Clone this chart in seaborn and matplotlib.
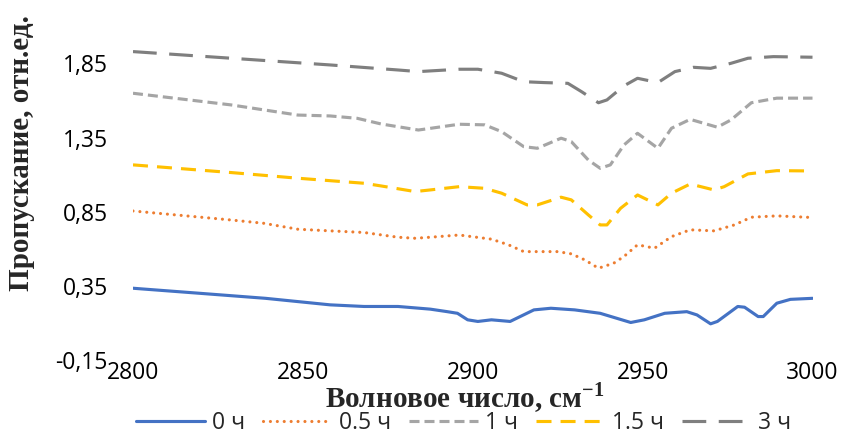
import matplotlib
matplotlib.use("Agg")
import matplotlib.pyplot as plt
import numpy as np
import pandas as pd
import seaborn as sns

# ---------------- data ----------------
series_labels = ["0 ч", "0.5 ч", "1 ч", "1.5 ч", "3 ч"]

x_0h = [2800, 2819, 2839, 2848.5, 2858, 2868, 2878, 2887.5, 2892.5, 2895.5, 2898.5, 2901.5,
        2905.5, 2911, 2918, 2923, 2930, 2937.5, 2946.5, 2950.5, 2956.5, 2963, 2966, 2970,
        2972, 2978, 2980, 2984, 2985.5, 2989.5, 2993.5, 3000]
y_0h = [0.334, 0.301, 0.266, 0.244, 0.222, 0.211, 0.211, 0.193, 0.176, 0.165, 0.121, 0.110,
        0.121, 0.110, 0.188, 0.199, 0.188, 0.165, 0.103, 0.121, 0.165, 0.176, 0.154, 0.094,
        0.110, 0.211, 0.206, 0.143, 0.143, 0.233, 0.259, 0.266]

x_05h = [2800, 2829, 2838.5, 2848.5, 2858, 2868, 2878, 2883, 2887.5, 2896, 2905.5, 2910.5,
         2915, 2925, 2929, 2933, 2937, 2941.5, 2944.5, 2948.5, 2953.5, 2958.5, 2964, 2971,
         2977, 2982, 2989.5, 3000]
y_05h = [0.855, 0.794, 0.772, 0.732, 0.721, 0.710, 0.678, 0.671, 0.678, 0.693, 0.665, 0.627,
         0.581, 0.581, 0.566, 0.525, 0.469, 0.503, 0.548, 0.627, 0.604, 0.682, 0.728, 0.721,
         0.761, 0.813, 0.822, 0.811]

x_1h = [2800, 2829, 2848.5, 2858, 2866, 2873, 2884, 2896, 2903.5, 2908.5, 2915, 2919, 2926,
        2929, 2934, 2937.5, 2940.5, 2944.5, 2948.5, 2954.5, 2958.5, 2964, 2972, 2976, 2982,
        2989.5, 3000]
y_1h = [1.649, 1.570, 1.502, 1.496, 1.480, 1.442, 1.401, 1.440, 1.436, 1.390, 1.289, 1.278,
        1.346, 1.323, 1.199, 1.143, 1.166, 1.300, 1.379, 1.278, 1.413, 1.473, 1.420, 1.469,
        1.585, 1.616, 1.616]

x_15h = [2800, 2829, 2848.5, 2868, 2873, 2883, 2887.5, 2896, 2903.5, 2908.5, 2916, 2919,
         2926, 2929, 2934, 2937.5, 2939.5, 2943.5, 2948.5, 2954.5, 2958.5, 2964, 2971, 2974,
         2981, 2989.5, 3000]
y_15h = [1.166, 1.114, 1.076, 1.042, 1.024, 0.986, 0.997, 1.019, 1.008, 0.975, 0.896, 0.896,
         0.948, 0.930, 0.829, 0.761, 0.761, 0.873, 0.963, 0.896, 0.975, 1.037, 0.997, 1.019,
         1.105, 1.127, 1.125]

x_3h = [2800, 2829, 2858, 2878, 2884, 2896, 2901.5, 2908.5, 2915, 2921, 2928, 2932, 2937,
        2939.5, 2944.5, 2948.5, 2954.5, 2959.5, 2965, 2970, 2976, 2981, 2988.5, 3000]
y_3h = [1.930, 1.885, 1.840, 1.806, 1.795, 1.811, 1.811, 1.784, 1.727, 1.721, 1.716, 1.660,
        1.585, 1.604, 1.699, 1.750, 1.721, 1.795, 1.824, 1.817, 1.851, 1.885, 1.896, 1.892]

x_ticks = [2800, 2850, 2900, 2950, 3000]
x_tick_labels = ["2800", "2850", "2900", "2950", "3000"]
y_ticks = [-0.15, 0.35, 0.85, 1.35, 1.85]
y_tick_labels = ["-0,15", "0,35", "0,85", "1,35", "1,85"]

x_title = "Волновое число, см$^{\\mathbf{-1}}$"
y_title = "Пропускание, отн.ед."

# ---------------- table ----------------
xs = [x_0h, x_05h, x_1h, x_15h, x_3h]
ys = [y_0h, y_05h, y_1h, y_15h, y_3h]
df = pd.concat(
    [pd.DataFrame({"w": x, "t": y, "series": lab}) for x, y, lab in zip(xs, ys, series_labels)],
    ignore_index=True,
)

# ---------------- style ----------------
sns.set_style("white")
plt.rcParams["font.family"] = ["Open Sans", "DejaVu Sans"]
plt.rcParams["mathtext.fontset"] = "custom"
plt.rcParams["mathtext.rm"] = "Liberation Serif"
plt.rcParams["mathtext.bf"] = "Liberation Serif:bold"

palette = {"0 ч": "#4472C4", "0.5 ч": "#ED7D31", "1 ч": "#A5A5A5",
           "1.5 ч": "#FFC000", "3 ч": "#7F7F7F"}
dashes = {"0 ч": "", "0.5 ч": (0.01, 2.2), "1 ч": (3.2, 1.6),
          "1.5 ч": (4.8, 2.9), "3 ч": (7.6, 4.0)}

W, H = 842, 436
fig = plt.figure(figsize=(W / 100, H / 100), dpi=100)
ax_left, ax_right, ax_bottom, ax_top = 133, 812.5, 360, 33.8
ax = fig.add_axes([ax_left / W, (H - ax_bottom) / H,
                   (ax_right - ax_left) / W, (ax_bottom - ax_top) / H])

sns.lineplot(data=df, x="w", y="t", hue="series", style="series",
             hue_order=series_labels, style_order=series_labels,
             palette=palette, dashes=dashes, linewidth=2.25,
             estimator=None, legend=False, ax=ax)

for line, lab in zip(ax.lines, series_labels):
    if lab == "0.5 ч":
        line.set_dash_capstyle("round")
    else:
        line.set_dash_capstyle("butt")
    line.set_solid_capstyle("round")

ax.set_xlim(2800, 3000)
ax.set_ylim(-0.15, 2.05)
ax.set_xticks(x_ticks)
ax.set_xticklabels(x_tick_labels)
ax.set_yticks(y_ticks)
ax.set_yticklabels(y_tick_labels)
ax.tick_params(axis="both", length=0, labelsize=16.5, colors="black")
ax.tick_params(axis="y", pad=18)
ax.tick_params(axis="x", pad=0.5)
for s in ax.spines.values():
    s.set_visible(False)
ax.grid(False)

ax.set_xlabel(x_title, fontfamily="Liberation Serif", fontweight="bold",
              fontsize=21, va="center", ha="center")
ax.xaxis.set_label_coords((465 - ax_left) / (ax_right - ax_left),
                          (ax_bottom - 398) / (ax_bottom - ax_top))
ax.set_ylabel(y_title, fontfamily="Liberation Serif", fontweight="bold",
              fontsize=21, va="center", ha="center")
ax.yaxis.set_label_coords((22 - ax_left) / (ax_right - ax_left),
                          (ax_bottom - 153) / (ax_bottom - ax_top))

ax.legend(handles=ax.lines[:5], labels=series_labels, ncol=5, loc="center",
          bbox_to_anchor=(463.5 / W, 13 / H), bbox_transform=fig.transFigure,
          frameon=False, handlelength=3.0, handletextpad=0.3, columnspacing=0.8,
          fontsize=16.5, borderpad=0, borderaxespad=0)

fig.savefig("out.png", dpi=100)
